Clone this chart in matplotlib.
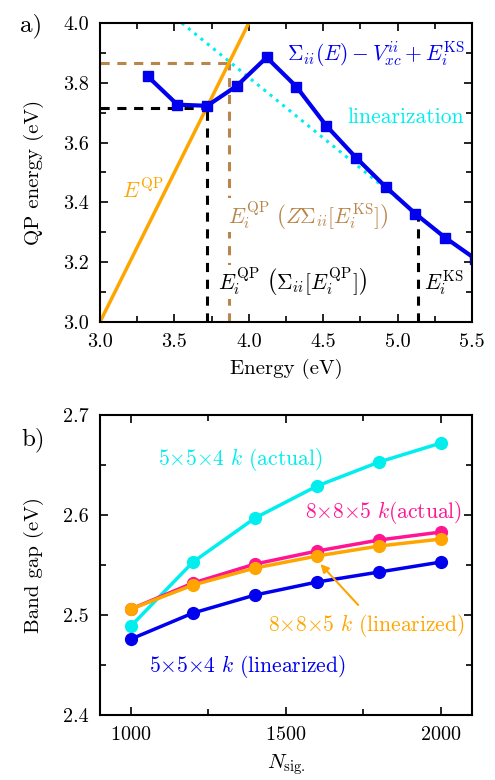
"""Two-panel figure: QP energy graphical solution (a) and band gap vs N_sig (b)."""

import matplotlib
matplotlib.use("Agg")
import matplotlib.pyplot as plt
from matplotlib.ticker import MultipleLocator

plt.rcParams["font.family"] = "serif"
plt.rcParams["font.serif"] = ["cmr10", "DejaVu Serif"]
plt.rcParams["mathtext.fontset"] = "cm"
plt.rcParams["axes.unicode_minus"] = False
plt.rcParams["axes.formatter.use_mathtext"] = True

# panel a: Sigma_ii(E) - Vxc + E_KS sampled on an energy grid
energy = [3.32, 3.52, 3.72, 3.92, 4.12, 4.32, 4.52, 4.72, 4.92, 5.12, 5.32, 5.52]
sigma_curve = [3.822, 3.727, 3.723, 3.790, 3.885, 3.787, 3.657, 3.550, 3.452, 3.362, 3.282, 3.212]
eqp_line = [3.0, 4.0]                 # E^QP = E
lin_x = [3.55, 5.14]                  # linearization around E_KS
lin_y = [4.0, 3.357]
E_QP_full = 3.717                     # self-consistent solution
E_QP_lin = 3.865                      # linearized (Z) solution
E_KS = 5.137

# panel b: band gap convergence
nsig = [1000, 1200, 1400, 1600, 1800, 2000]
gap_554_actual = [2.489, 2.553, 2.597, 2.629, 2.653, 2.672]
gap_885_actual = [2.506, 2.532, 2.551, 2.564, 2.575, 2.583]
gap_885_lin = [2.506, 2.530, 2.547, 2.559, 2.569, 2.576]
gap_554_lin = [2.476, 2.502, 2.520, 2.533, 2.543, 2.553]

BLUE = "#0000ee"
CYAN = "#00eeee"
ORANGE = "#ffa500"
BROWN = "#b8864b"
PINK = "#ff1493"
FS = 15.5

fig = plt.figure(figsize=(4.95, 7.8), dpi=100)
ax = fig.add_axes([0.202, 0.5872, 0.7515, 0.3833])
bx = fig.add_axes([0.202, 0.0833, 0.7515, 0.3846])

for a in (ax, bx):
    for s in a.spines.values():
        s.set_linewidth(1.5)
    a.tick_params(which="both", direction="in", top=True, right=True,
                  labelsize=14.5, width=1.2, pad=8)
    a.tick_params(which="major", length=6)
    a.tick_params(which="minor", length=4)

# ---- panel a
dash = dict(lw=2.2, dashes=(3, 2.5))
ax.plot([E_QP_full, E_QP_full], [3.0, E_QP_full], color="black", **dash)
ax.plot([3.0, E_QP_full], [E_QP_full, E_QP_full], color="black", **dash)
ax.plot([E_QP_lin, E_QP_lin], [3.0, E_QP_lin], color=BROWN, **dash)
ax.plot([3.0, E_QP_lin], [E_QP_lin, E_QP_lin], color=BROWN, **dash)
ax.plot([E_KS, E_KS], [3.0, 3.35], color="black", **dash)
ax.plot(lin_x, lin_y, ":", color=CYAN, lw=2.2)
ax.plot(eqp_line, eqp_line, color=ORANGE, lw=2.5)
ax.plot(energy, sigma_curve, "-s", color=BLUE, lw=3, ms=7.5)

ax.text(3.86, 3.33, r"$E_i^{\rm QP}\ \left(Z\Sigma_{ii}[E_i^{\rm KS}]\right)$", color=BROWN,
        fontsize=FS, bbox=dict(facecolor="white", edgecolor="none", pad=0.5))
ax.text(3.79, 3.107, r"$E_i^{\rm QP}\ \left(\Sigma_{ii}[E_i^{\rm QP}]\right)$", color="black",
        fontsize=FS, bbox=dict(facecolor="white", edgecolor="none", pad=0.5))
ax.text(5.18, 3.107, r"$E_i^{\rm KS}$", color="black", fontsize=FS)
ax.text(3.15, 3.415, r"$E^{\rm QP}$", color=ORANGE, fontsize=FS)
ax.text(4.255, 3.872, r"$\Sigma_{ii}(E)-V_{xc}^{ii}+E_i^{\rm KS}$", color=BLUE, fontsize=FS)
ax.text(4.66, 3.666, "linearization", color=CYAN, fontsize=FS)

ax.set_xlim(3.0, 5.5)
ax.set_ylim(3.0, 4.0)
ax.xaxis.set_major_locator(MultipleLocator(0.5))
ax.xaxis.set_minor_locator(MultipleLocator(0.25))
ax.yaxis.set_major_locator(MultipleLocator(0.2))
ax.yaxis.set_minor_locator(MultipleLocator(0.1))
ax.xaxis.set_major_formatter("{x:.1f}")
ax.yaxis.set_major_formatter("{x:.1f}")
ax.set_xlabel("Energy (eV)", fontsize=15, labelpad=6)
ax.set_ylabel("QP energy (eV)", fontsize=15, labelpad=14)
fig.text(0.04, 0.960, "a)", fontsize=18)

# ---- panel b
bx.plot(nsig, gap_554_actual, "-o", color=CYAN, lw=2.5, ms=8.5)
bx.plot(nsig, gap_885_actual, "-o", color=PINK, lw=2.5, ms=8.5)
bx.plot(nsig, gap_885_lin, "-o", color=ORANGE, lw=2.5, ms=8.5)
bx.plot(nsig, gap_554_lin, "-o", color=BLUE, lw=2.5, ms=8.5)

bx.text(1087, 2.650, r"$5{\times}5{\times}4\ k$ (actual)", color=CYAN, fontsize=FS)
bx.text(1561, 2.597, r"$8{\times}8{\times}5\ k$(actual)", color=PINK, fontsize=FS)
bx.text(1442, 2.484, r"$8{\times}8{\times}5\ k$ (linearized)", color=ORANGE, fontsize=FS)
bx.text(1058, 2.443, r"$5{\times}5{\times}4\ k$ (linearized)", color=BLUE, fontsize=FS)
bx.annotate("", xy=(1605, 2.553), xytext=(1739, 2.508),
            arrowprops=dict(arrowstyle="-|>", color=ORANGE, lw=1.5, mutation_scale=12))

bx.set_xlim(900, 2100)
bx.set_ylim(2.4, 2.7)
bx.xaxis.set_major_locator(MultipleLocator(500))
bx.xaxis.set_minor_locator(MultipleLocator(250))
bx.yaxis.set_major_locator(MultipleLocator(0.1))
bx.yaxis.set_minor_locator(MultipleLocator(0.05))
bx.yaxis.set_major_formatter("{x:.1f}")
bx.set_xlabel(r"$N_{\rm sig.}$", fontsize=15, labelpad=6)
bx.set_ylabel("Band gap (eV)", fontsize=15, labelpad=14)
fig.text(0.044, 0.4295, "b)", fontsize=18)

fig.savefig("out.png", dpi=100)
